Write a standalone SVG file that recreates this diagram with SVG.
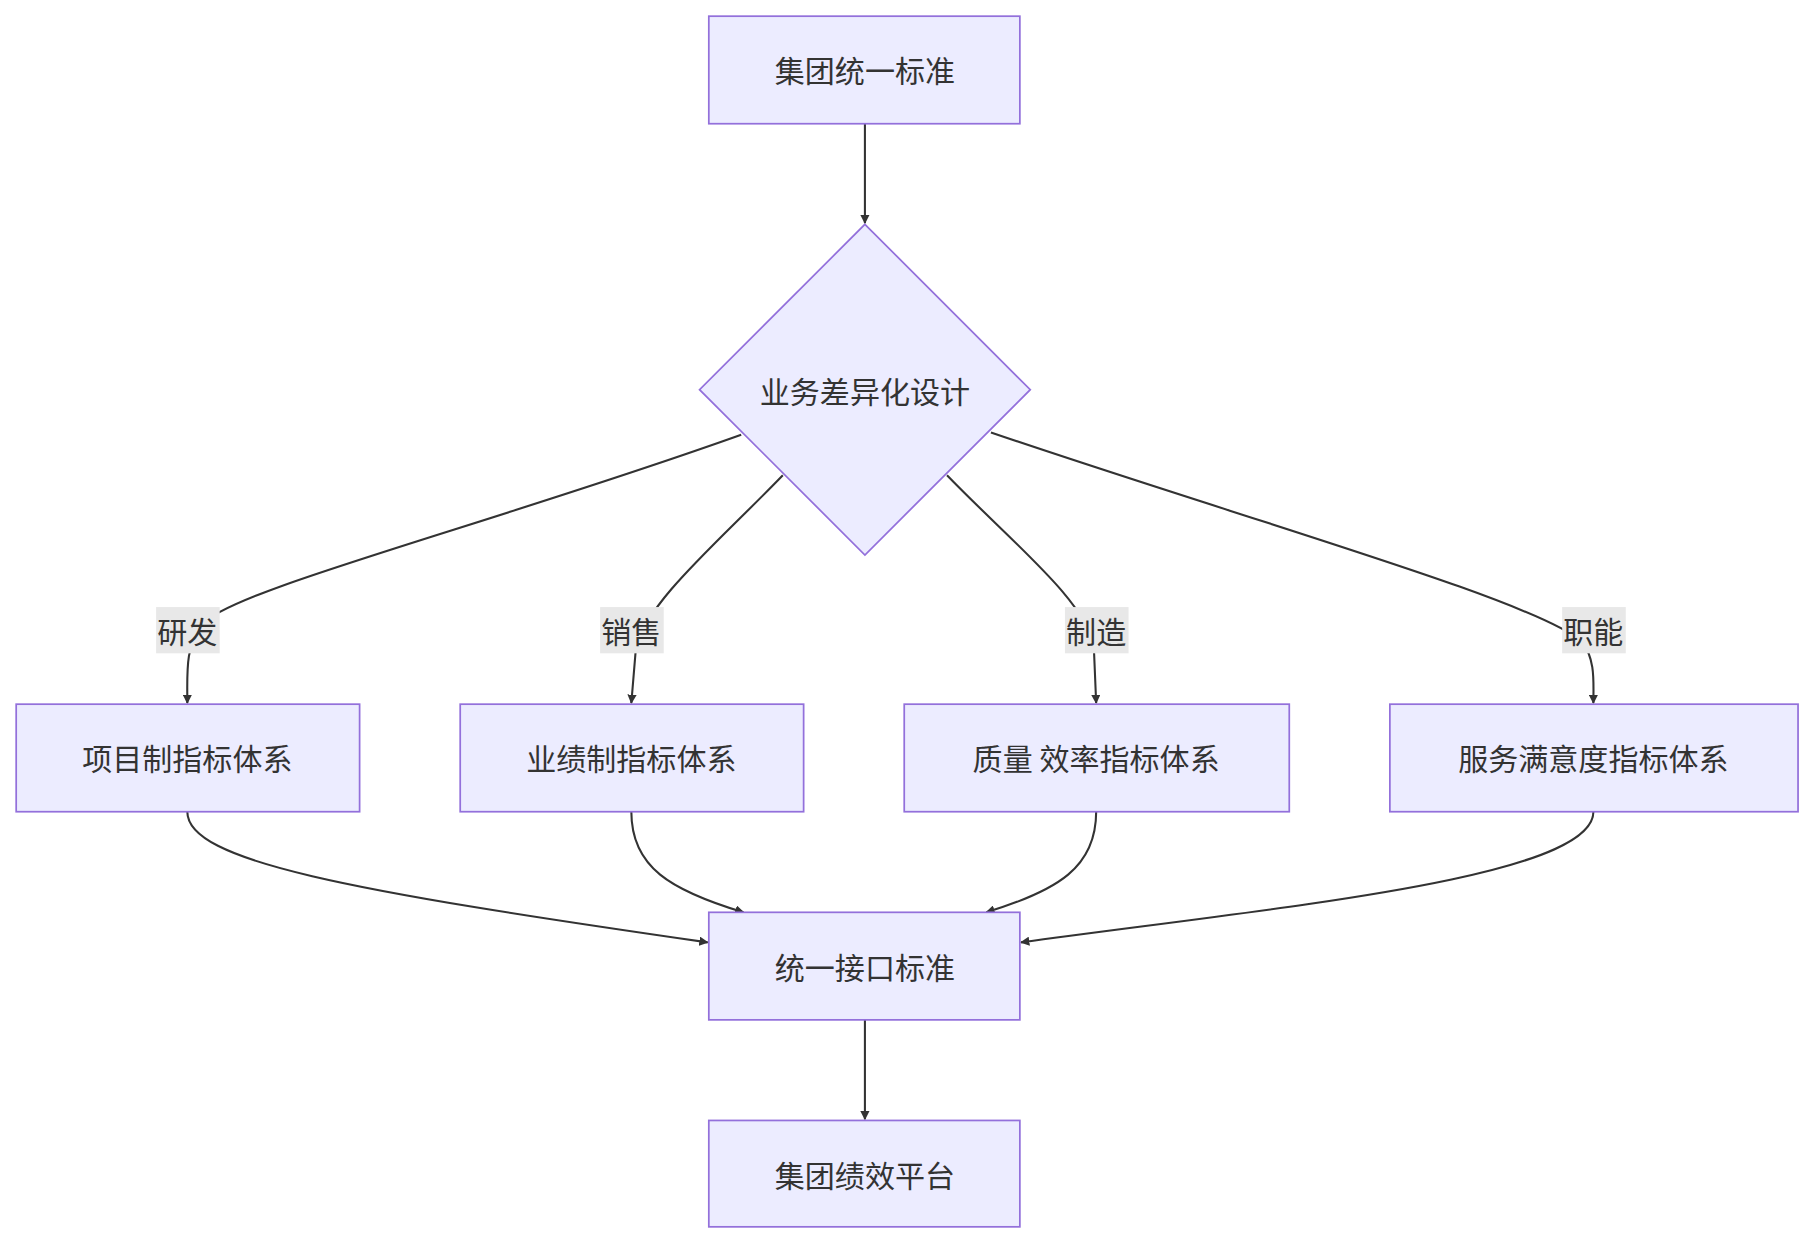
<svg xmlns="http://www.w3.org/2000/svg" width="1813" height="1244" viewBox="0 0 1813 1244">
<style>
.n{fill:#ECECFF;stroke:#9370DB;stroke-width:1.5}
.t{font-family:"Noto Sans CJK SC",sans-serif;font-size:26px;fill:#333;text-anchor:middle;dominant-baseline:central}
.e{fill:none;stroke:#333;stroke-width:1.8}
.lb{fill:#e8e8e8}
</style>
<defs><marker id="a" viewBox="0 0 10 10" refX="9" refY="5" markerWidth="8" markerHeight="8" orient="auto" markerUnits="userSpaceOnUse"><path d="M0,0L10,5L0,10z" fill="#333"/></marker></defs>
<rect width="1813" height="1244" fill="#fff"/>
<g transform="scale(1.1563)">
<g id="edges">
<path class="e" marker-end="url(#a)" d="M748,107L748,193"/>
<path class="e" marker-end="url(#a)" d="M641,376C420,455 200,510 175,540C160,560 162,580 162,608"/>
<path class="e" marker-end="url(#a)" d="M677,411C620,470 560,520 550,560L546,608"/>
<path class="e" marker-end="url(#a)" d="M819,411C876,470 940,520 946,560L948,608"/>
<path class="e" marker-end="url(#a)" d="M857,374C1080,450 1330,520 1368,555C1380,570 1378,590 1378,608"/>
<path class="e" marker-end="url(#a)" d="M162,702C162,745 300,770 612,815"/>
<path class="e" marker-end="url(#a)" d="M546,702C546,750 580,770 643,789"/>
<path class="e" marker-end="url(#a)" d="M948,702C948,750 915,770 853,789"/>
<path class="e" marker-end="url(#a)" d="M1378,702C1378,760 1100,785 883,815"/>
<path class="e" marker-end="url(#a)" d="M748,882L748,968"/>
<rect class="lb" x="135" y="525" width="55" height="40"/><text class="t" x="162" y="545">研发</text>
<rect class="lb" x="519" y="525" width="55" height="40"/><text class="t" x="546" y="545">销售</text>
<rect class="lb" x="921" y="525" width="55" height="40"/><text class="t" x="948" y="545">制造</text>
<rect class="lb" x="1351" y="525" width="55" height="40"/><text class="t" x="1378" y="545">职能</text>
</g>
<g id="n1"><rect class="n" x="613" y="14" width="269" height="93"/><text class="t" x="748" y="60">集团统一标准</text></g>
<g id="n2"><polygon class="n" points="748,194 891,337 748,480 605,337"/><text class="t" x="748" y="337">业务差异化设计</text></g>
<g id="n3"><rect class="n" x="14" y="609" width="297" height="93"/><text class="t" x="162" y="655">项目制指标体系</text></g>
<g id="n4"><rect class="n" x="398" y="609" width="297" height="93"/><text class="t" x="546" y="655">业绩制指标体系</text></g>
<g id="n5"><rect class="n" x="782" y="609" width="333" height="93"/><text class="t" x="948" y="655">质量 效率指标体系</text></g>
<g id="n6"><rect class="n" x="1202" y="609" width="353" height="93"/><text class="t" x="1378" y="655">服务满意度指标体系</text></g>
<g id="n7"><rect class="n" x="613" y="789" width="269" height="93"/><text class="t" x="748" y="835">统一接口标准</text></g>
<g id="n8"><rect class="n" x="613" y="969" width="269" height="92"/><text class="t" x="748" y="1015">集团绩效平台</text></g>
</g>
</svg>
